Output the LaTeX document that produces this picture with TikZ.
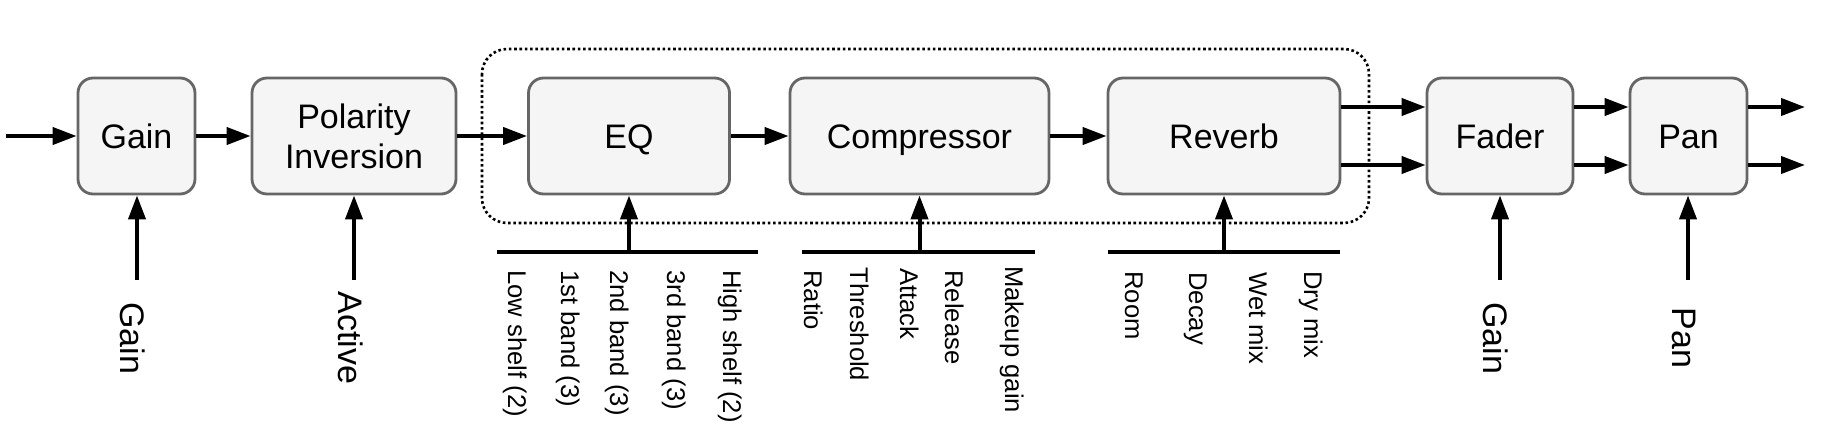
\documentclass[tikz,border=0pt]{standalone}
\usepackage{fontspec}
\setmainfont{Liberation Sans}
\usetikzlibrary{arrows.meta}
\definecolor{boxfill}{HTML}{F5F5F5}
\definecolor{boxline}{HTML}{666666}
\begin{document}
\begin{tikzpicture}[x=0.5pt,y=0.5pt,
  blk/.style={draw=boxline, fill=boxfill, line width=1.4pt, rounded corners=7.5pt,
    inner sep=0pt, minimum height=58pt, font=\fontsize{17}{20}\selectfont},
  blk1/.style={blk, text height=12.2pt, text depth=0pt},
  flow/.style={line width=2pt, -{Triangle[length=12pt,width=8.5pt]}},
  bus/.style={line width=2.1pt},
  grp/.style={line width=1.3pt, dash pattern=on 1.3pt off 1.35pt, rounded corners=12.5pt},
  lbl/.style={rotate=-90, anchor=base west, inner sep=0pt, font=\fontsize{12.8}{15}\selectfont},
  biglbl/.style={rotate=-90, anchor=base, inner sep=0pt, font=\fontsize{17}{20}\selectfont}
]
\useasboundingbox (0,0) rectangle (1821,-429);

% group box
\draw[grp] (482,-49) rectangle (1369,-223);

% blocks
\node[blk1, minimum width=58.5pt] (gain) at (136.5,-136) {Gain};
\node[blk, minimum width=102pt, align=center] (pol) at (354,-136) {\raisebox{-0.7pt}{Polarity}\\\raisebox{-0.7pt}{Inversion}};
\node[blk1, minimum width=100.5pt] (eq) at (629,-136) {EQ};
\node[blk1, minimum width=129.5pt] (comp) at (919.5,-136) {Compressor};
\node[blk1, minimum width=116pt] (rev) at (1224,-136) {Reverb};
\node[blk1, minimum width=73pt] (fader) at (1500,-136) {Fader};
\node[blk1, minimum width=58.5pt] (pan) at (1688.5,-136) {Pan};

% main flow
\coordinate (in) at (6,-136);
\draw[flow] (in) -- (gain.west);
\draw[flow] (gain.east) -- (pol.west);
\draw[flow] (pol.east) -- (eq.west);
\draw[flow] (eq.east) -- (comp.west);
\draw[flow] (comp.east) -- (rev.west);
\draw[flow] ([yshift=14.5pt]rev.east) -- ([yshift=14.5pt]fader.west);
\draw[flow] ([yshift=-14.5pt]rev.east) -- ([yshift=-14.5pt]fader.west);
\draw[flow] ([yshift=14.5pt]fader.east) -- ([yshift=14.5pt]pan.west);
\draw[flow] ([yshift=-14.5pt]fader.east) -- ([yshift=-14.5pt]pan.west);
\coordinate (o1) at (1805,-107);
\coordinate (o2) at (1805,-165);
\draw[flow] ([yshift=14.5pt]pan.east) -- (o1);
\draw[flow] ([yshift=-14.5pt]pan.east) -- (o2);

% simple controls
\coordinate (cg) at (137,-280);
\coordinate (ca) at (354,-280);
\coordinate (cf) at (1500,-280);
\coordinate (cp) at (1688,-280);
\draw[flow] (cg) -- (cg |- gain.south);
\draw[flow] (ca) -- (ca |- pol.south);
\draw[flow] (cf) -- (cf |- fader.south);
\draw[flow] (cp) -- (cp |- pan.south);
\node[biglbl] (lg) at (120,-338) {Gain};
\node[biglbl] (la) at (338,-338) {Active};
\node[biglbl] (lf) at (1483.5,-338) {Gain};
\node[biglbl] (lp) at (1672.5,-338) {Pan};

% parameter buses
\coordinate (eqL) at (497,-252);
\coordinate (eqR) at (758,-252);
\draw[bus] (eqL) -- (eqR);
\draw[flow] (eq.south |- eqL) -- (eq.south);
\coordinate (coL) at (802,-252);
\coordinate (coR) at (1035,-252);
\draw[bus] (coL) -- (coR);
\draw[flow] (comp.south |- coL) -- (comp.south);
\coordinate (reL) at (1108,-252);
\coordinate (reR) at (1340,-252);
\draw[bus] (reL) -- (reR);
\draw[flow] (rev.south |- reL) -- (rev.south);

% EQ parameters
\node[lbl] (p1) at (508,-270) {Low shelf (2)};
\node[lbl] (p2) at (561,-270) {1st band (3)};
\node[lbl] (p3) at (610,-270) {2nd band (3)};
\node[lbl] (p4) at (667,-270) {3rd band (3)};
\node[lbl] (p5) at (723,-270) {High shelf (2)};
% Compressor parameters
\node[lbl] (c1) at (804,-270) {Ratio};
\node[lbl] (c2) at (850,-267) {Threshold};
\node[lbl] (c3) at (900,-268) {Attack};
\node[lbl] (c4) at (945,-270) {Release};
\node[lbl] (c5) at (1005,-266) {Makeup gain};
% Reverb parameters
\node[lbl] (r1) at (1125,-271) {Room};
\node[lbl] (r2) at (1189,-272) {Decay};
\node[lbl] (r3) at (1249,-272) {Wet mix};
\node[lbl] (r4) at (1304,-271) {Dry mix};
\end{tikzpicture}
\end{document}
